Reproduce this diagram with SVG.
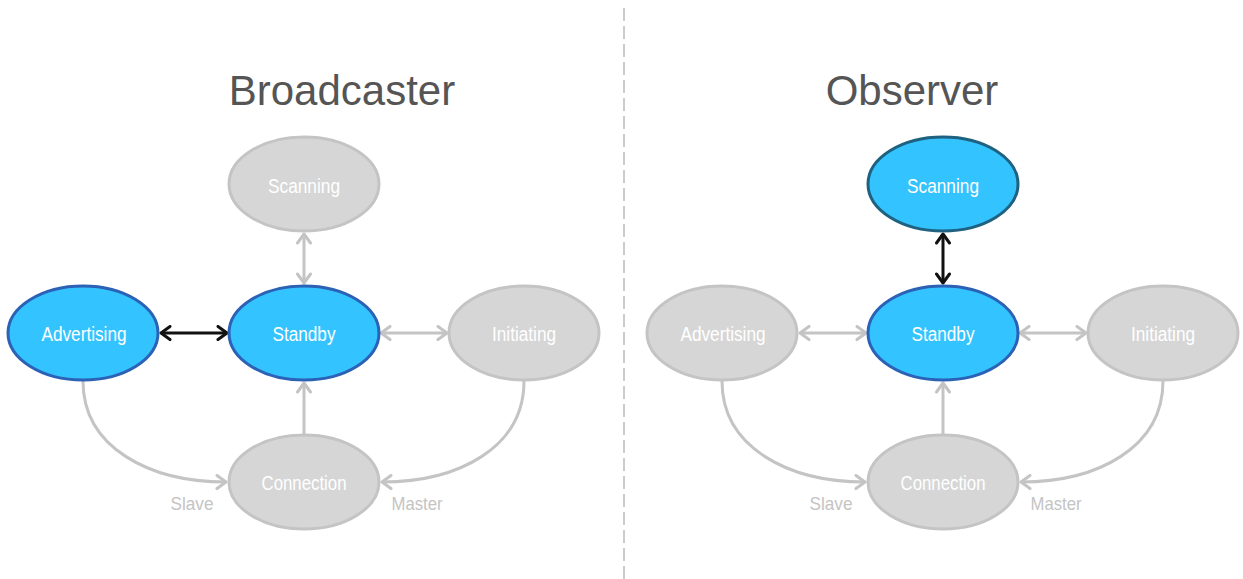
<svg xmlns="http://www.w3.org/2000/svg" width="1243" height="579" viewBox="0 0 1243 579">
<style>
.title{font-family:"Liberation Sans",Arial,sans-serif;font-size:42px;fill:#555555;text-anchor:middle}
.lbl{font-family:"Liberation Sans",Arial,sans-serif;font-size:20px;fill:#ffffff;text-anchor:middle}
.edge{font-family:"Liberation Sans",Arial,sans-serif;font-size:19px;fill:#c4c4c4;text-anchor:middle}
.gray{fill:#d6d6d6;stroke:#c4c4c4;stroke-width:3}
.blue{fill:#33c3ff;stroke:#2b62b6;stroke-width:3}
.blue2{fill:#33c3ff;stroke:#1f6180;stroke-width:3}
.cg{stroke:#c4c4c4;stroke-width:3;fill:none}
.cb{stroke:#111111;stroke-width:3;fill:none}
</style>
<defs>
<marker id="ag" markerUnits="userSpaceOnUse" viewBox="0 0 16 16" markerWidth="16" markerHeight="16" refX="13" refY="8" orient="auto-start-reverse">
<path d="M4,1.5 L13,8 L4,14.5" fill="none" stroke="#c4c4c4" stroke-width="3" stroke-linecap="round" stroke-linejoin="round"/>
</marker>
<marker id="ab" markerUnits="userSpaceOnUse" viewBox="0 0 16 16" markerWidth="16" markerHeight="16" refX="13" refY="8" orient="auto-start-reverse">
<path d="M4,1.5 L13,8 L4,14.5" fill="none" stroke="#111111" stroke-width="3" stroke-linecap="round" stroke-linejoin="round"/>
</marker>
</defs>
<rect width="1243" height="579" fill="#ffffff"/>
<line x1="624" y1="8" x2="624" y2="579" stroke="#cccccc" stroke-width="2" stroke-dasharray="13 5"/>
<text class="title" x="342" y="105">Broadcaster</text>
<text class="title" x="912" y="105">Observer</text>
<g id="connectors">
<line class="cg" x1="304" y1="234" x2="304" y2="283" marker-start="url(#ag)" marker-end="url(#ag)"/>
<line class="cb" x1="161" y1="333" x2="227" y2="333" marker-start="url(#ab)" marker-end="url(#ab)"/>
<line class="cg" x1="381" y1="333" x2="447" y2="333" marker-start="url(#ag)" marker-end="url(#ag)"/>
<line class="cg" x1="304" y1="435" x2="304" y2="383" marker-end="url(#ag)"/>
<path class="cg" d="M83,381 C83,448 150,482 226,482" marker-end="url(#ag)"/>
<path class="cg" d="M524,381 C524,448 458,482 382,482" marker-end="url(#ag)"/>
<line class="cb" x1="943" y1="234" x2="943" y2="283" marker-start="url(#ab)" marker-end="url(#ab)"/>
<line class="cg" x1="800" y1="333" x2="866" y2="333" marker-start="url(#ag)" marker-end="url(#ag)"/>
<line class="cg" x1="1020" y1="333" x2="1086" y2="333" marker-start="url(#ag)" marker-end="url(#ag)"/>
<line class="cg" x1="943" y1="435" x2="943" y2="383" marker-end="url(#ag)"/>
<path class="cg" d="M722,381 C722,448 789,482 865,482" marker-end="url(#ag)"/>
<path class="cg" d="M1163,381 C1163,448 1097,482 1021,482" marker-end="url(#ag)"/>
<text class="edge" x="192" y="510" textLength="43" lengthAdjust="spacingAndGlyphs">Slave</text>
<text class="edge" x="417" y="510" textLength="51" lengthAdjust="spacingAndGlyphs">Master</text>
<text class="edge" x="831" y="510" textLength="43" lengthAdjust="spacingAndGlyphs">Slave</text>
<text class="edge" x="1056" y="510" textLength="51" lengthAdjust="spacingAndGlyphs">Master</text>
</g>
<g id="b-scanning"><ellipse class="gray" cx="304" cy="184" rx="75" ry="47"/><text class="lbl" x="304" y="193" textLength="72" lengthAdjust="spacingAndGlyphs">Scanning</text></g>
<g id="b-advertising"><ellipse class="blue" cx="83" cy="333" rx="75" ry="47"/><text class="lbl" x="84" y="341" textLength="85" lengthAdjust="spacingAndGlyphs">Advertising</text></g>
<g id="b-standby"><ellipse class="blue" cx="304" cy="333" rx="75" ry="47"/><text class="lbl" x="304" y="341" textLength="63" lengthAdjust="spacingAndGlyphs">Standby</text></g>
<g id="b-initiating"><ellipse class="gray" cx="524" cy="333" rx="75" ry="47"/><text class="lbl" x="524" y="341" textLength="64" lengthAdjust="spacingAndGlyphs">Initiating</text></g>
<g id="b-connection"><ellipse class="gray" cx="304" cy="482" rx="75" ry="47"/><text class="lbl" x="304" y="490" textLength="85" lengthAdjust="spacingAndGlyphs">Connection</text></g>
<g id="o-scanning"><ellipse class="blue2" cx="943" cy="184" rx="75" ry="47"/><text class="lbl" x="943" y="193" textLength="72" lengthAdjust="spacingAndGlyphs">Scanning</text></g>
<g id="o-advertising"><ellipse class="gray" cx="722" cy="333" rx="75" ry="47"/><text class="lbl" x="723" y="341" textLength="85" lengthAdjust="spacingAndGlyphs">Advertising</text></g>
<g id="o-standby"><ellipse class="blue" cx="943" cy="333" rx="75" ry="47"/><text class="lbl" x="943" y="341" textLength="63" lengthAdjust="spacingAndGlyphs">Standby</text></g>
<g id="o-initiating"><ellipse class="gray" cx="1163" cy="333" rx="75" ry="47"/><text class="lbl" x="1163" y="341" textLength="64" lengthAdjust="spacingAndGlyphs">Initiating</text></g>
<g id="o-connection"><ellipse class="gray" cx="943" cy="482" rx="75" ry="47"/><text class="lbl" x="943" y="490" textLength="85" lengthAdjust="spacingAndGlyphs">Connection</text></g>
</svg>
